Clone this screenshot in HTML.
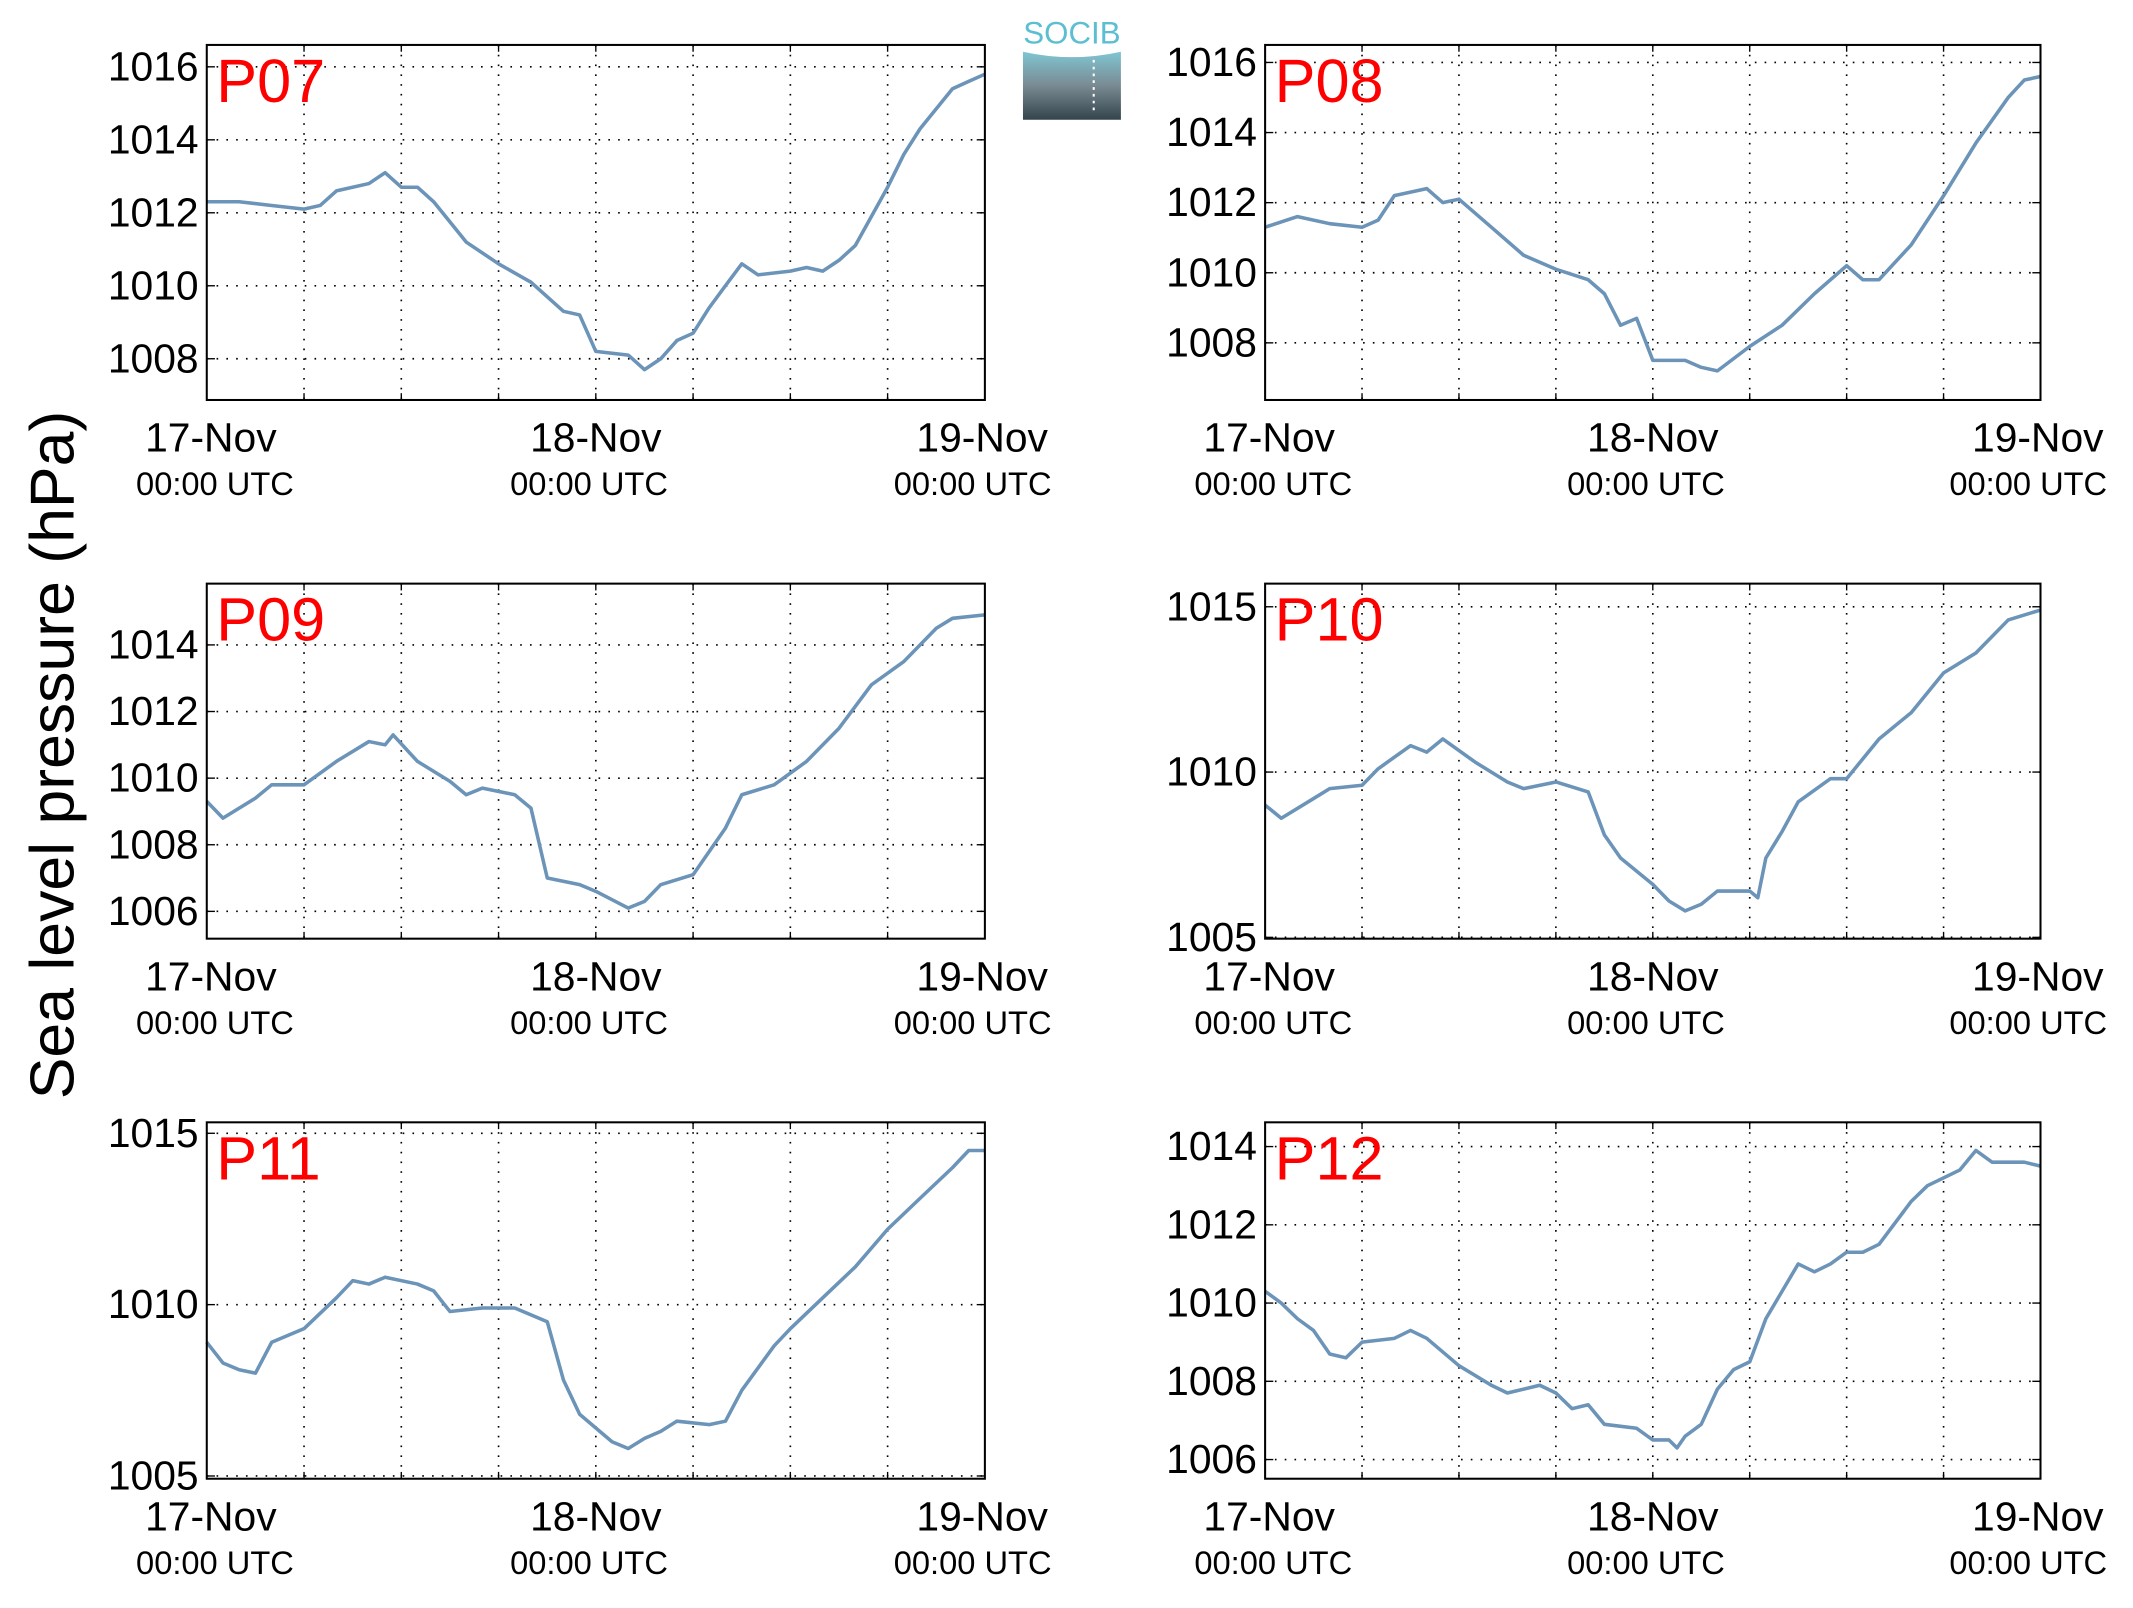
<!DOCTYPE html>
<html><head><meta charset="utf-8"><style>
html,body{margin:0;padding:0;background:#fff;}
svg{display:block;}
text{font-family:"Liberation Sans",sans-serif;}
</style></head><body>
<svg id="fig" width="2133" height="1608" viewBox="0 0 1568 1182" xmlns="http://www.w3.org/2000/svg">
<rect width="1568" height="1182" fill="#fff"/>
<text x="0" y="0" transform="translate(54,555) rotate(-90)" text-anchor="middle" font-size="46">Sea level pressure (hPa)</text>
<g>
<defs><linearGradient id="lg" x1="0" y1="0" x2="0" y2="1"><stop offset="0" stop-color="#7fc6d3"/><stop offset="0.5" stop-color="#7a8a92"/><stop offset="1" stop-color="#34444c"/></linearGradient></defs>
<text x="788" y="32" text-anchor="middle" font-size="23" fill="#5bbfd1">SOCIB</text>
<path d="M752,38 Q788,46 824,38 L824,88 L752,88 Z" fill="url(#lg)"/>
<line x1="804" y1="44" x2="804" y2="82" stroke="#fff" stroke-dasharray="2,3" stroke-width="1.5"/>
</g>
<g id="panels"></g>
</svg>
<script>
const NS="http://www.w3.org/2000/svg";
// Panel data (hours since 17-Nov 00:00 UTC, pressure hPa)
const p07Hours=[0,2,4,6,7,8,10,11,12,13,14,16,18,20,22,23,24,26,27,28,29,30,31,32,33,34,36,37,38,39,40,42,43,44,46,47,48];
const p07Values=[1012.3,1012.3,1012.2,1012.1,1012.2,1012.6,1012.8,1013.1,1012.7,1012.7,1012.3,1011.2,1010.6,1010.1,1009.3,1009.2,1008.2,1008.1,1007.7,1008.0,1008.5,1008.7,1009.4,1010.0,1010.6,1010.3,1010.4,1010.5,1010.4,1010.7,1011.1,1012.7,1013.6,1014.3,1015.4,1015.6,1015.8];
const p08Hours=[0,2,4,6,7,8,10,11,12,14,16,18,20,21,22,23,24,26,27,28,30,32,34,36,37,38,40,42,44,46,47,48];
const p08Values=[1011.3,1011.6,1011.4,1011.3,1011.5,1012.2,1012.4,1012.0,1012.1,1011.3,1010.5,1010.1,1009.8,1009.4,1008.5,1008.7,1007.5,1007.5,1007.3,1007.2,1007.9,1008.5,1009.4,1010.2,1009.8,1009.8,1010.8,1012.2,1013.7,1015.0,1015.5,1015.6];
const p09Hours=[0,1,3,4,6,8,10,11,11.5,13,15,16,17,19,20,21,23,24,26,27,28,30,32,33,35,37,39,41,43,45,46,48];
const p09Values=[1009.3,1008.8,1009.4,1009.8,1009.8,1010.5,1011.1,1011.0,1011.3,1010.5,1009.9,1009.5,1009.7,1009.5,1009.1,1007.0,1006.8,1006.6,1006.1,1006.3,1006.8,1007.1,1008.5,1009.5,1009.8,1010.5,1011.5,1012.8,1013.5,1014.5,1014.8,1014.9];
const p10Hours=[0,1,3,4,6,7,9,10,11,13,15,16,18,20,21,22,24,25,26,27,28,30,30.5,31,32,33,35,36,38,40,42,44,46,48];
const p10Values=[1009.0,1008.6,1009.2,1009.5,1009.6,1010.1,1010.8,1010.6,1011.0,1010.3,1009.7,1009.5,1009.7,1009.4,1008.1,1007.4,1006.6,1006.1,1005.8,1006.0,1006.4,1006.4,1006.2,1007.4,1008.2,1009.1,1009.8,1009.8,1011.0,1011.8,1013.0,1013.6,1014.6,1014.9];
const p11Hours=[0,1,2,3,4,6,8,9,10,11,13,14,15,17,19,21,22,23,24,25,26,27,28,29,31,32,33,35,36,38,40,42,44,46,47,48];
const p11Values=[1008.9,1008.3,1008.1,1008.0,1008.9,1009.3,1010.2,1010.7,1010.6,1010.8,1010.6,1010.4,1009.8,1009.9,1009.9,1009.5,1007.8,1006.8,1006.4,1006.0,1005.8,1006.1,1006.3,1006.6,1006.5,1006.6,1007.5,1008.8,1009.3,1010.2,1011.1,1012.2,1013.1,1014.0,1014.5,1014.5];
const p12Hours=[0,1,2,3,4,5,6,8,9,10,12,14,15,17,18,19,20,21,23,24,25,25.5,26,27,28,29,30,31,33,34,35,36,37,38,40,41,43,44,45,47,48];
const p12Values=[1010.3,1010.0,1009.6,1009.3,1008.7,1008.6,1009.0,1009.1,1009.3,1009.1,1008.4,1007.9,1007.7,1007.9,1007.7,1007.3,1007.4,1006.9,1006.8,1006.5,1006.5,1006.3,1006.6,1006.9,1007.8,1008.3,1008.5,1009.6,1011.0,1010.8,1011.0,1011.3,1011.3,1011.5,1012.6,1013.0,1013.4,1013.9,1013.6,1013.6,1013.5];
const p07Ticks=[1008,1010,1012,1014,1016];
const p08Ticks=[1008,1010,1012,1014,1016];
const p09Ticks=[1006,1008,1010,1012,1014];
const p10Ticks=[1005,1010,1015];
const p11Ticks=[1005,1010,1015];
const p12Ticks=[1006,1008,1010,1012,1014];
const xTickLabels=["17-Nov","18-Nov","19-Nov"];

const panels=[
 {name:"P07",x0:152,x1:724,y0:33,y1:294,ymin:1006.87,ymax:1016.6,h:p07Hours,v:p07Values,t:p07Ticks},
 {name:"P08",x0:930,x1:1500,y0:33,y1:294,ymin:1006.37,ymax:1016.5,h:p08Hours,v:p08Values,t:p08Ticks},
 {name:"P09",x0:152,x1:724,y0:429,y1:690,ymin:1005.18,ymax:1015.84,h:p09Hours,v:p09Values,t:p09Ticks},
 {name:"P10",x0:930,x1:1500,y0:429,y1:690,ymin:1004.96,ymax:1015.7,h:p10Hours,v:p10Values,t:p10Ticks},
 {name:"P11",x0:152,x1:724,y0:825,y1:1087,ymin:1004.92,ymax:1015.32,h:p11Hours,v:p11Values,t:p11Ticks},
 {name:"P12",x0:930,x1:1500,y0:825,y1:1087,ymin:1005.51,ymax:1014.62,h:p12Hours,v:p12Values,t:p12Ticks}
];
const root=document.getElementById("panels");
function mk(tag,attrs,parent){const e=document.createElementNS(NS,tag);for(const k in attrs)e.setAttribute(k,attrs[k]);parent.appendChild(e);return e;}
const dateOffsets=[3,0,-2];
const utcOffsets=[6,-5,-9];
panels.forEach(p=>{
 const g=mk("g",{},root);
 
 
 const xs=h=>p.x0+h/48*(p.x1-p.x0);
 const ys=v=>p.y1-(v-p.ymin)/(p.ymax-p.ymin)*(p.y1-p.y0);
 for(let h=6;h<48;h+=6){
  const l=mk("line",{x1:xs(h),x2:xs(h),y1:p.y0,y2:p.y1,stroke:"#000","stroke-width":1.2,"stroke-dasharray":"1.2,6"},g);
  
  
  mk("line",{x1:xs(h),x2:xs(h),y1:p.y1,y2:p.y1-5,stroke:"#000","stroke-width":1},g);
  mk("line",{x1:xs(h),x2:xs(h),y1:p.y0,y2:p.y0+5,stroke:"#000","stroke-width":1},g);
 }
 p.t.forEach(t=>{
  const y=ys(t);
  const l=mk("line",{x1:p.x0,x2:p.x1,y1:y,y2:y,stroke:"#000","stroke-width":1.2,"stroke-dasharray":"1.2,6"},g);
  
  
  mk("line",{x1:p.x0,x2:p.x0+6,y1:y,y2:y,stroke:"#000"},g);
  mk("line",{x1:p.x1,x2:p.x1-6,y1:y,y2:y,stroke:"#000"},g);
  const tx=mk("text",{x:p.x0-6,y:y+10,"text-anchor":"end","font-size":30},g);
  tx.textContent=t;
  
  
 });
 xTickLabels.forEach((lab,i)=>{
  const x=xs(i*24);
  const t1=mk("text",{x:x+dateOffsets[i],y:p.y1+38,"text-anchor":"middle","font-size":30},g);
  t1.textContent=lab;
  
  
  const t2=mk("text",{x:x+utcOffsets[i],y:p.y1+70,"text-anchor":"middle","font-size":24},g);
  t2.textContent="00:00 UTC";
  
  
 });
 const d=p.h.map((h,i)=>(i?"L":"M")+xs(h).toFixed(1)+","+ys(p.v[i]).toFixed(1)).join("");
 const path=mk("path",{d:d,fill:"none",stroke:"#6b94b8","stroke-width":2.6,"stroke-linejoin":"round"},g);
 
 
 const fr=mk("rect",{x:p.x0,y:p.y0,width:p.x1-p.x0,height:p.y1-p.y0,fill:"none",stroke:"#000","stroke-width":1.5},g);
 
 
 const lb=mk("text",{x:p.x0+7,y:p.y0+42,"font-size":45,fill:"#ff0000"},g);
 lb.textContent=p.name;
 
 
});
</script>
</body></html>
